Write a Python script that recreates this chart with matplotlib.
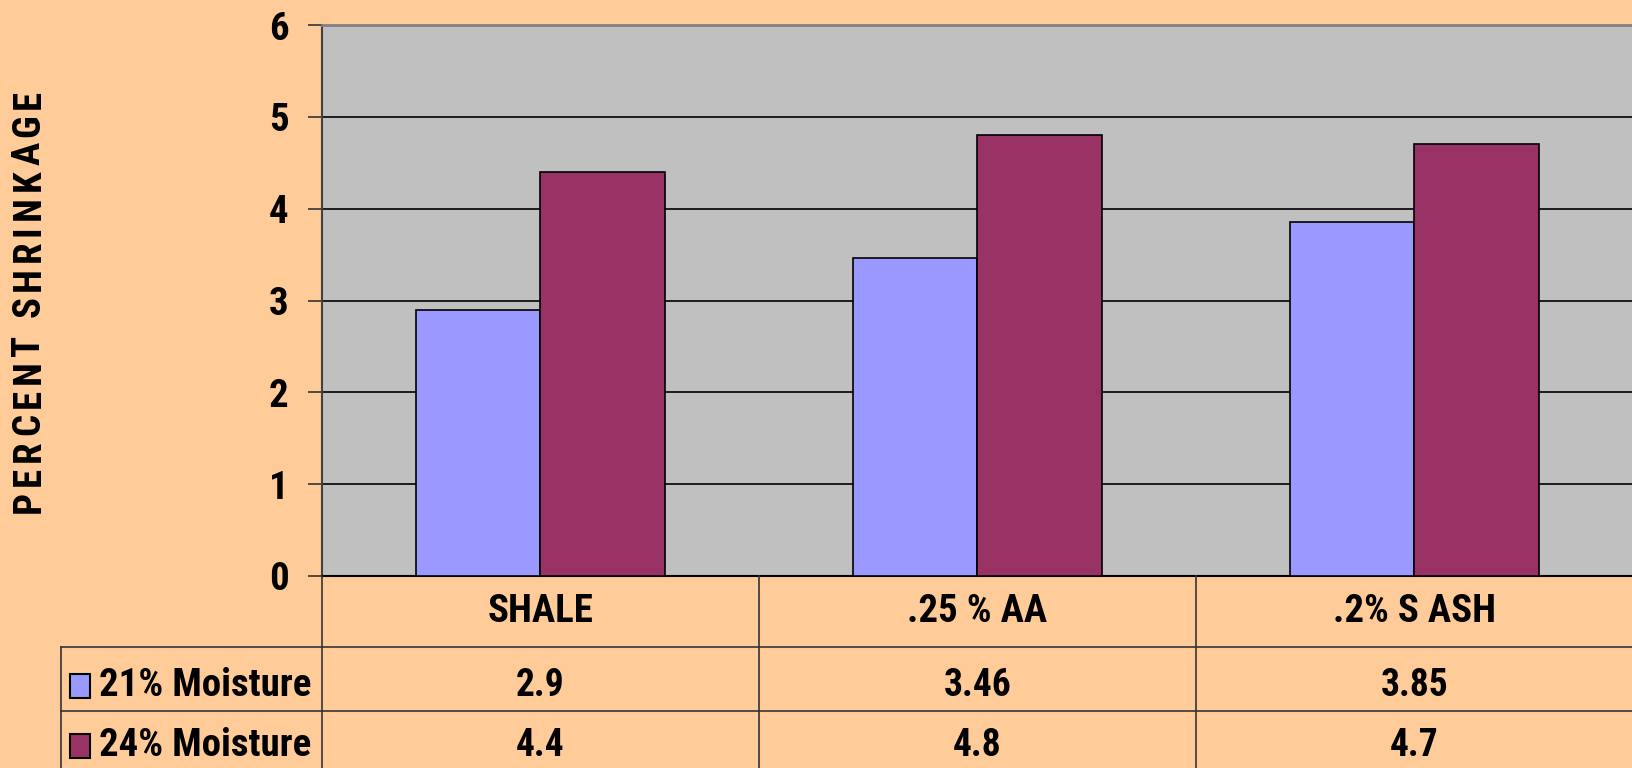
import matplotlib
matplotlib.use("Agg")
import matplotlib.pyplot as plt
from matplotlib import font_manager
from matplotlib.patches import Rectangle
import numpy as np

categories = ["SHALE", ".25 % AA", ".2% S ASH"]
series_names = ["21% Moisture", "24% Moisture"]
moisture_21 = [2.9, 3.46, 3.85]
moisture_24 = [4.4, 4.8, 4.7]
table_21 = ["2.9", "3.46", "3.85"]
table_24 = ["4.4", "4.8", "4.7"]
yticks = [0, 1, 2, 3, 4, 5, 6]
ylabel = "PERCENT SHRINKAGE"

BG = "#FFCC99"
PLOT_BG = "#C0C0C0"
colors = ["#9999FF", "#993366"]


def pick_font(names):
    for n in names:
        try:
            font_manager.findfont(n, fallback_to_default=False)
            return n
        except ValueError:
            pass
    return "DejaVu Sans"


# Arial Narrow look-alike
FONT = pick_font(["Liberation Sans Narrow", "Arial Narrow", "Roboto Condensed",
                  "Archivo Narrow", "PT Sans Narrow", "Liberation Sans"])

W, H = 1633, 768
fig = plt.figure(figsize=(W / 100, H / 100), dpi=100, facecolor=BG)

# plot area in pixels
left, right, top, bottom = 322, 1633, 25, 576
ax = fig.add_axes([left / W, (H - bottom) / H, (right - left) / W, (bottom - top) / H])
ax.set_facecolor(PLOT_BG)
ax.set_xlim(-0.5, len(categories) - 0.5)
ax.set_ylim(0, 6)

x = np.arange(len(categories))
w = 1 / 3.5
for yv in yticks[1:-1]:
    ax.axhline(yv, color="black", lw=1.2, zorder=1)
ax.bar(x - w / 2, moisture_21, w, color=colors[0], edgecolor="black", lw=1.2, zorder=3)
ax.bar(x + w / 2, moisture_24, w, color=colors[1], edgecolor="black", lw=1.2, zorder=3)

ax.set_xticks([])
ax.set_yticks(yticks)
ax.set_yticklabels([str(t) for t in yticks], fontsize=28, fontweight="bold", family=FONT)
ax.tick_params(axis="y", direction="out", length=10, width=1.2, pad=14, color="#333333")
ax.spines["right"].set_visible(False)
ax.spines["top"].set_color("#808080")
ax.spines["top"].set_linewidth(2)
ax.spines["left"].set_color("#404040")
ax.spines["left"].set_linewidth(1.5)
ax.spines["bottom"].set_color("black")
ax.spines["bottom"].set_linewidth(1.5)

# data table under the plot, drawn in figure pixels
tax = fig.add_axes([0, 0, 1, (H - bottom) / H])
tax.set_xlim(0, W)
tax.set_ylim(0, H - bottom)
tax.axis("off")
tax.patch.set_alpha(0)

bounds = [ax.transData.transform((b, 0))[0] for b in np.arange(len(categories) + 1) - 0.5]
centers = [ax.transData.transform((c, 0))[0] for c in x]
tbl_top = H - bottom
hdr_bot = H - 647
row1_bot = H - 711
legend_left = 61
line_kw = dict(color="#333333", lw=1.2, clip_on=False)

for b in bounds[:-1]:
    tax.plot([b, b], [0, tbl_top], **line_kw)
tax.plot([legend_left, legend_left], [0, hdr_bot], **line_kw)
tax.plot([legend_left, W], [hdr_bot, hdr_bot], **line_kw)
tax.plot([legend_left, W], [row1_bot, row1_bot], **line_kw)

for cx, cat in zip(centers, categories):
    tax.text(cx, H - 611, cat, ha="center", va="center", fontsize=28,
             fontweight="bold", family=FONT)

row_y = [H - 686, H - 746]
for ry, vals in zip(row_y, [table_21, table_24]):
    for cx, v in zip(centers, vals):
        tax.text(cx, ry, v, ha="center", va="center", fontsize=27,
                 fontweight="bold", family=FONT)

for ry, name, c in zip(row_y, series_names, colors):
    tax.add_patch(Rectangle((70, ry - 12), 20, 24, facecolor=c, edgecolor="black", lw=1.5))
    tax.text(99, ry, name, ha="left", va="center", fontsize=28,
             fontweight="bold", family=FONT)

# y label with letter spacing, one glyph at a time
lax = fig.add_axes([0, 0, 1, 1])
lax.set_xlim(0, W)
lax.set_ylim(0, H)
lax.axis("off")
lax.patch.set_alpha(0)
fig.canvas.draw()
renderer = fig.canvas.get_renderer()
prop = font_manager.FontProperties(family=FONT, weight="bold", size=28)
widths = []
for ch in ylabel:
    if ch == " ":
        widths.append(8.0)
    else:
        wd, _, _ = renderer.get_text_width_height_descent(ch, prop, ismath=False)
        widths.append(wd)
y0, y1 = H - 513, H - 90
gap = max(((y1 - y0) - sum(widths)) / (len(ylabel) - 1), 2.0)
pos = y0
for ch, wd in zip(ylabel, widths):
    if ch != " ":
        lax.text(29, pos + wd / 2, ch, rotation=90, ha="center", va="center",
                 fontproperties=prop)
    pos += wd + gap

fig.savefig("out.png", dpi=100, facecolor=BG)
